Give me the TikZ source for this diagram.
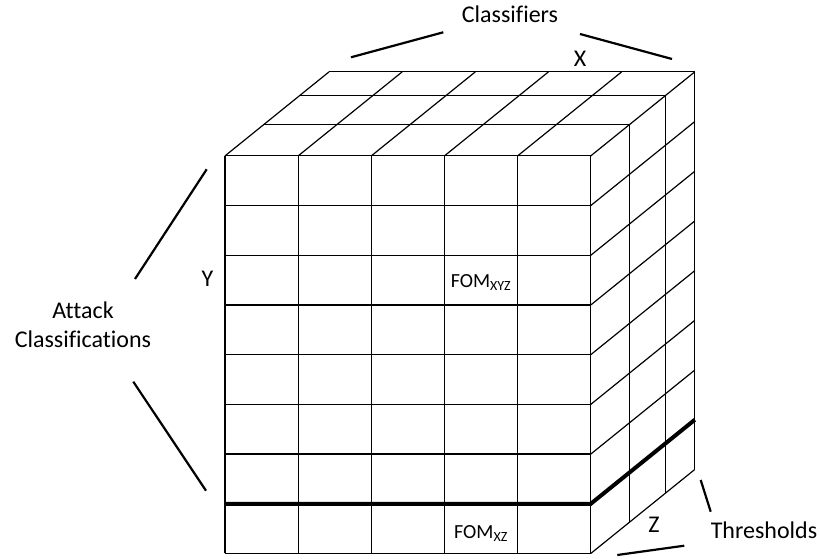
\documentclass[tikz,border=0pt]{standalone}
\usepackage{fontspec}
\setmainfont{Carlito}[Ligatures=NoCommon]

\begin{document}
\begin{tikzpicture}[
x=1pt,y=1pt,
gridline/.style={
  draw,
  line width=1.2pt
  },
boldline/.style={
  draw,
  line width=4pt,
  line join=miter
  },
brace/.style={
  draw,
  line width=2.2pt
  },
axislabel/.style={
  font=\fontsize{24}{29}\selectfont,
  anchor=base,
  inner sep=0pt
  },
fomlabel/.style={
  font=\fontsize{20}{24}\selectfont,
  anchor=base,
  inner sep=0pt
  }
]
\def\w{73.15}
\def\h{49.7}
\def\dx{104}
\def\dy{84}
\useasboundingbox (-225,-5.5) rectangle (595,553.5);
% front face
\foreach \i in {0,...,5}
  \draw[gridline] (\i*\w,0) -- ++(0,8*\h);
\foreach \j in {0,...,8}
  \draw[gridline] (0,\j*\h) -- ++(5*\w,0);
% top and right faces
\foreach \d in {0.375,0.715,1}
  \draw[gridline] (\d*\dx,8*\h+\d*\dy) -- ++(5*\w,0) -- ++(0,-8*\h);
\foreach \i in {0,...,5}
  \draw[gridline] (\i*\w,8*\h) -- ++(\dx,\dy);
\foreach \j in {0,...,7}
  \draw[gridline] (5*\w,\j*\h) -- ++(\dx,\dy);
\draw[boldline] (0,\h) -- (5*\w,\h) -- ++(\dx,\dy);
% cells
\node[fomlabel] (fomxyz) at (3.5*\w,5.35*\h) {FOM\textsubscript{XYZ}};
\node[fomlabel] (fomxz) at (3.5*\w,0.3*\h) {FOM\textsubscript{XZ}};
% axes
\node[axislabel] (classifiers) at (285,530.8) {Classifiers};
\node[axislabel] (xaxis) at (355,486.8) {X};
\node[axislabel] (yaxis) at (-17.5,266.8) {Y};
\node[axislabel,anchor=center,align=center] (attacks) at (-142,228.5) {Attack\\Classifications};
\node[axislabel] (zaxis) at (429,21.2) {Z};
\node[axislabel] (thresholds) at (539,15.2) {Thresholds};
\draw[brace] (126,496.2) -- (218.3,521.2);
\draw[brace] (355,519.5) -- (447,494.5);
\draw[brace] (-18.3,384.2) -- (-90,274.5);
\draw[brace] (-91.7,171.8) -- (-19,62.8);
\draw[brace] (392.3,-1.5) -- (459.3,7.8);
\draw[brace] (475.7,73.5) -- (485.7,41.8);
\end{tikzpicture}
\end{document}
